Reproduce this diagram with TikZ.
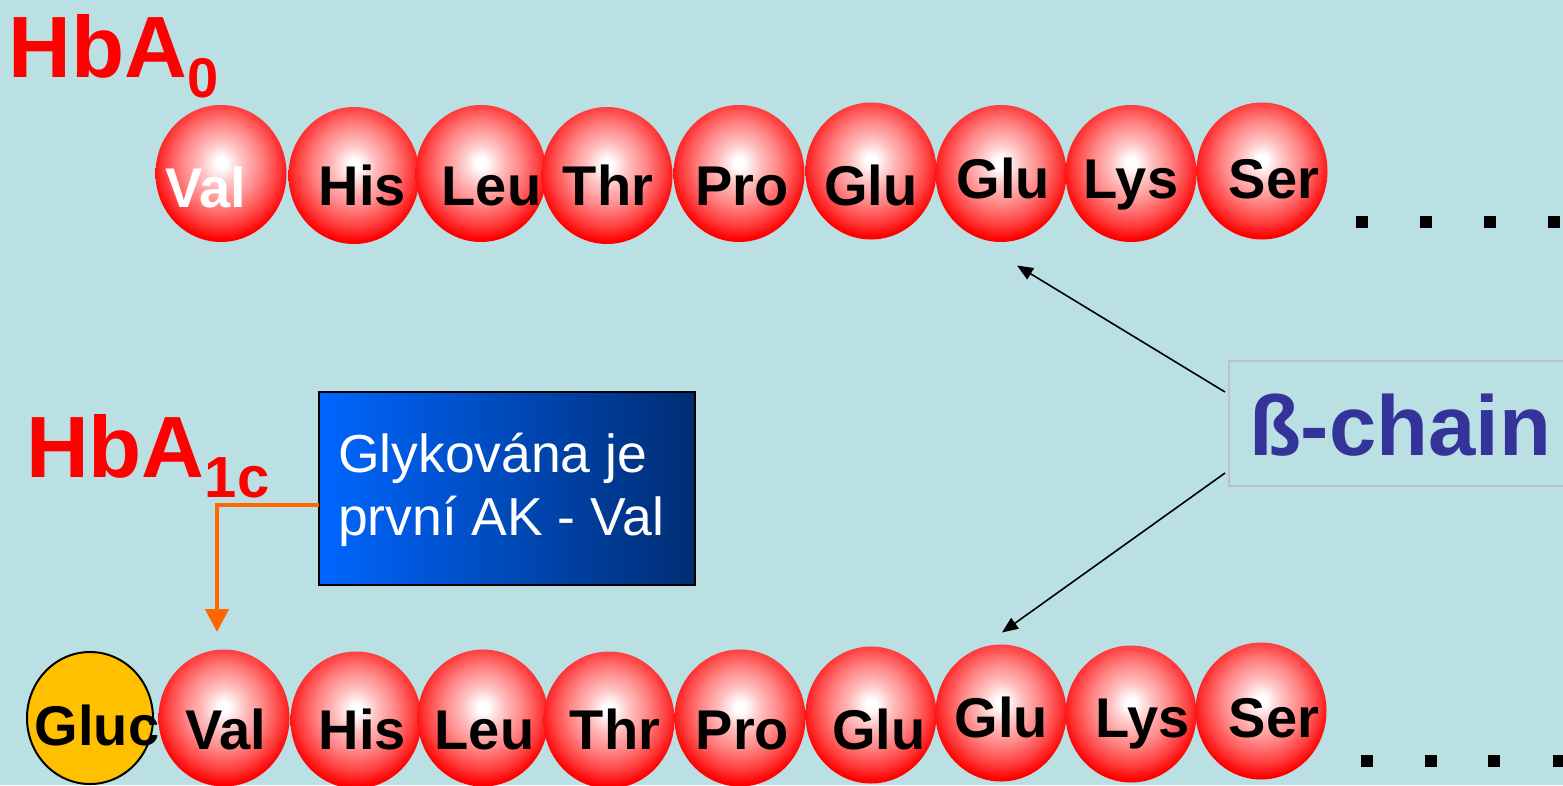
\documentclass[tikz,border=0pt]{standalone}
\usepackage{fontspec}
\setmainfont{Liberation Sans}
\usetikzlibrary{shapes.geometric,arrows.meta}
\definecolor{bgteal}{RGB}{186,224,227}
\definecolor{chainblue}{RGB}{51,51,153}
\definecolor{chaingray}{RGB}{192,192,192}
\definecolor{glucyellow}{RGB}{255,192,0}
\definecolor{boxblue}{RGB}{0,102,255}
\definecolor{boxnavy}{RGB}{0,45,115}
\definecolor{linkorange}{RGB}{255,102,0}
\pgfdeclareradialshading{redball}{\pgfpoint{0bp}{4bp}}{color(0bp)=(white); color(2bp)=(white); color(8bp)=(red!25!white); color(15bp)=(red!48!white); color(22bp)=(red!76!white); color(27bp)=(red); color(100bp)=(red)}

\begin{document}
\begin{tikzpicture}[x=1pt,y=-1pt]
\tikzstyle{every node}=[inner sep=0pt, outer sep=0pt]
\tikzstyle{ball}=[ellipse, minimum width=131pt, minimum height=137pt, shading=redball]
\tikzstyle{res}=[font=\fontsize{56}{60}\selectfont\bfseries, anchor=base]
\tikzstyle{title}=[font=\fontsize{87}{90}\selectfont\bfseries, text=red, anchor=base west]
\tikzstyle{note}=[font=\fontsize{53.5}{60}\selectfont, text=white, anchor=base west]
\tikzstyle{pointer}=[line width=1.6pt, -{Triangle[width=13pt,length=16pt]}]

\fill[bgteal] (0,0) rectangle (1563,785);
\clip (0,0) rectangle (1563,785);

\node[title] (hba0) at (9,77) {HbA\raisebox{-20pt}{\fontsize{56}{56}\selectfont 0}};
\node[title] (hba1c) at (26,477) {HbA\raisebox{-20pt}{\fontsize{58}{58}\selectfont 1c}};

\foreach \n/\bx/\by/\tx/\ty/\res/\col in {
  1/221/173.5/206/207/Val/white, 2/354/175.5/362.5/205/His/black,
  3/481/173.5/491.5/205/Leu/black, 4/607/175.5/608/205/Thr/black,
  5/739/173.5/742/205/Pro/black, 6/871/171/871/205/Glu/black,
  7/1001/173.5/1003.5/198/Glu/black, 8/1131/173.5/1131/198/Lys/black,
  9/1262/171/1274/198/Ser/black} {
  \node[ball] (t\n) at (\bx,\by) {};
  \node[res, text=\col] (tl\n) at (\tx,\ty) {\res};
}

\node[ellipse, draw, line width=2pt, fill=glucyellow, minimum width=126pt, minimum height=132pt] (gluc) at (90,718) {};
\foreach \n/\bx/\by/\tx/\ty/\res in {
  1/224/718/226/749/Val, 2/356/720/362.5/749/His,
  3/483/718/484.5/749/Leu, 4/609/720/615/749/Thr,
  5/740/718/742.5/749/Pro, 6/871/715/879/749/Glu,
  7/1001/713/1001.5/737/Glu, 8/1131/714/1142.5/737/Lys,
  9/1261/711/1274/737/Ser} {
  \node[ball] (b\n) at (\bx,\by) {};
  \node[res] (bl\n) at (\tx,\ty) {\res};
}
\node[res] (glucl) at (97,745) {Gluc};

\foreach \x in {1362,1426,1490,1554}
  \fill (\x-6,216) rectangle +(12,12);
\foreach \x in {1367,1431,1494,1559}
  \fill (\x-6,755) rectangle +(12,12);

\node[draw, line width=2pt, left color=boxblue, right color=boxnavy, minimum width=376pt, minimum height=193pt] (glyc) at (507,488.5) {};
\node[note] (glyc1) at (338,472) {Glykována je};
\node[note] (glyc2) at (338,535) {první AK - Val};
\coordinate (valtip) at (217,632);
\draw[linkorange, line width=4.5pt, -{Triangle[width=23pt,length=23pt]}] ([yshift=-16.5pt]glyc.west) -| (valtip);

\node[draw=chaingray, line width=2pt, minimum width=420pt, minimum height=125pt, anchor=west] (chain) at (1229,423.5) {};
\node[font=\fontsize{85}{90}\selectfont\bfseries, text=chainblue, anchor=base west] (chaintxt) at (1249,455) {ß-chain};
\draw[pointer] ([xshift=-4pt,yshift=31.5pt]chain.west) -- ([xshift=16pt,yshift=-23.5pt]t7.south);
\draw[pointer] ([xshift=-4pt,yshift=-49.5pt]chain.west) -- ([xshift=1pt,yshift=12pt]b7.north);
\end{tikzpicture}
\end{document}
